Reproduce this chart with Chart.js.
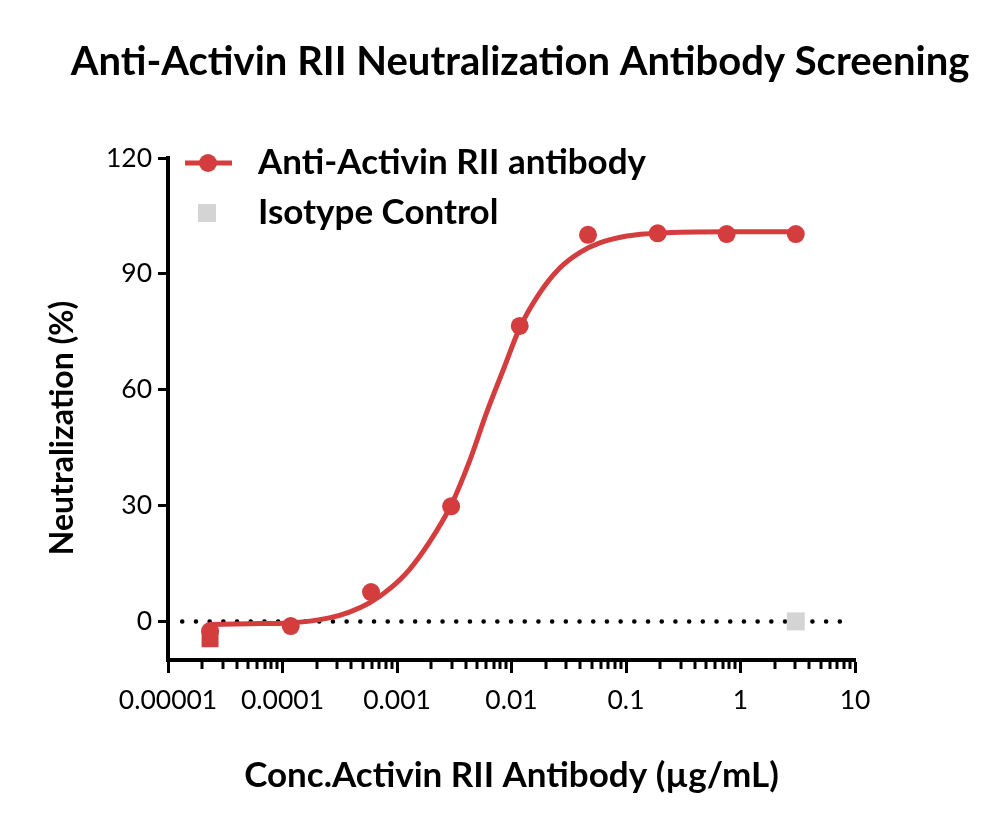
<!DOCTYPE html>
<html>
<head>
<meta charset="utf-8">
<script src="https://cdn.jsdelivr.net/npm/chart.js@4"></script>
<style>
  html, body { margin: 0; padding: 0; background: #fff; }
</style>
</head>
<body>
<canvas id="neutralizationChart" width="1000" height="828"></canvas>
<script>
const chartTitle = 'Anti-Activin RII Neutralization Antibody Screening';
const xTitle = 'Conc.Activin RII Antibody (µg/mL)';
const yTitle = 'Neutralization (%)';
const seriesNames = ['Anti-Activin RII antibody', 'Isotype Control'];

// measured points (µg/mL, %)
const antibodyConc = [2.33e-5, 1.18e-4, 5.93e-4, 2.97e-3, 0.0118, 0.0466, 0.189, 0.757, 3.04];
const antibodyNeut = [-2.5, -1.2, 7.6, 29.8, 76.5, 100.1, 100.5, 100.3, 100.3];
const replicateConc = [2.33e-5];
const replicateNeut = [-4.5];
const isotypeConc = [3.04];
const isotypeNeut = [0];

// fitted curve
const fitConc = [2.33e-5, 5.1e-5, 1.15e-4, 2.56e-4, 3.84e-4, 5.85e-4, 8.6e-4, 1.29e-3, 1.92e-3, 2.99e-3,
  4.3e-3, 6.05e-3, 8.7e-3, 0.0118, 0.0176, 0.0264, 0.0394, 0.059, 0.1016, 0.198, 0.762, 3.04];
const fitNeut = [-0.8, -0.6, -0.4, 0.9, 2.4, 4.9, 8.4, 13.5, 20.5, 30.3,
  41.5, 54, 66, 76, 85, 91.5, 95.5, 98, 99.8, 100.6, 100.9, 100.9];

// dotted zero reference
const zeroConc = [1.33e-5, 8.7];
const zeroNeut = [0, 0];

const xTicks = [1e-5, 1e-4, 1e-3, 1e-2, 1e-1, 1, 10];
const xTickLabels = ['0.00001', '0.0001', '0.001', '0.01', '0.1', '1', '10'];
const yTicks = [0, 30, 60, 90, 120];

const red = '#d43d3d';
const grey = '#d4d4d4';

const toXY = (xs, ys) => xs.map((x, i) => ({ x, y: ys[i] }));

const extras = {
  id: 'extras',
  afterDraw(chart) {
    const ctx = chart.ctx;
    const area = chart.chartArea;
    const xs = chart.scales.x;

    // minor ticks on the log axis
    ctx.save();
    ctx.strokeStyle = '#000';
    ctx.lineWidth = 3;
    for (let d = 0; d < xTicks.length - 1; d++) {
      for (let k = 2; k <= 9; k++) {
        const px = Math.round(xs.getPixelForValue(k * xTicks[d]));
        ctx.beginPath();
        ctx.moveTo(px, area.bottom);
        ctx.lineTo(px, area.bottom + 9);
        ctx.stroke();
      }
    }
    ctx.restore();

    ctx.save();
    ctx.fillStyle = '#000';
    ctx.textAlign = 'center';
    ctx.textBaseline = 'middle';

    // title
    ctx.font = 'bold 40px Lato';
    ctx.fillText(chartTitle, 520, 62);

    // y title
    ctx.translate(63, 428);
    ctx.rotate(-Math.PI / 2);
    ctx.font = 'bold 32px Lato';
    ctx.fillText(yTitle, 0, 0);
    ctx.restore();

    // legend
    ctx.save();
    const y1 = area.top + 5;
    const y2 = area.top + 55;
    ctx.strokeStyle = red;
    ctx.lineWidth = 5;
    ctx.beginPath();
    ctx.moveTo(area.left + 17, y1);
    ctx.lineTo(area.left + 64, y1);
    ctx.stroke();
    ctx.fillStyle = red;
    ctx.beginPath();
    ctx.arc(area.left + 40, y1, 9, 0, Math.PI * 2);
    ctx.fill();
    ctx.fillStyle = grey;
    ctx.fillRect(area.left + 30, y2 - 9, 18, 18);
    ctx.fillStyle = '#000';
    ctx.font = 'bold 35px Lato';
    ctx.textBaseline = 'middle';
    ctx.fillText(seriesNames[0], area.left + 90, y1);
    ctx.fillText(seriesNames[1], area.left + 90, y2);
    ctx.restore();
  }
};

new Chart(document.getElementById('neutralizationChart'), {
  type: 'scatter',
  data: {
    datasets: [
      {
        label: seriesNames[0],
        data: toXY(antibodyConc, antibodyNeut),
        backgroundColor: red,
        borderWidth: 0,
        pointRadius: 9,
        pointHoverRadius: 9,
        order: 0
      },
      {
        label: 'replicate',
        data: toXY(replicateConc, replicateNeut),
        backgroundColor: red,
        borderWidth: 0,
        pointStyle: 'rect',
        pointRadius: 12,
        order: 1
      },
      {
        label: 'fit',
        data: toXY(fitConc, fitNeut),
        showLine: true,
        borderColor: red,
        borderWidth: 5,
        pointRadius: 0,
        cubicInterpolationMode: 'monotone',
        order: 2
      },
      {
        label: seriesNames[1],
        data: toXY(isotypeConc, isotypeNeut),
        backgroundColor: grey,
        borderWidth: 0,
        pointStyle: 'rect',
        pointRadius: 12.7,
        order: 3
      },
      {
        label: 'zero',
        data: toXY(zeroConc, zeroNeut),
        showLine: true,
        borderColor: '#000',
        borderWidth: 4.5,
        borderDash: [0.1, 13.6],
        borderCapStyle: 'round',
        pointRadius: 0,
        order: 4
      }
    ]
  },
  options: {
    responsive: false,
    animation: false,
    devicePixelRatio: 1,
    layout: { padding: { left: 20, right: 145, top: 158, bottom: 0 } },
    plugins: {
      legend: { display: false },
      tooltip: { enabled: false },
      title: { display: false }
    },
    scales: {
      x: {
        type: 'logarithmic',
        min: 1e-5,
        max: 10,
        afterBuildTicks: s => { s.ticks = xTicks.map(v => ({ value: v })); },
        afterFit: s => { s.height = 168; },
        border: { color: '#000', width: 4 },
        grid: { drawOnChartArea: false, drawTicks: true, tickLength: 13, tickWidth: 3, tickColor: '#000' },
        ticks: {
          autoSkip: false,
          maxRotation: 0,
          color: '#000',
          font: { family: 'Lato', size: 26.5 },
          padding: 12,
          callback: (v, i) => xTickLabels[i]
        },
        title: {
          display: true,
          text: xTitle,
          color: '#000',
          font: { family: 'Lato', size: 35, weight: 'bold' },
          padding: { top: 0, bottom: 31 }
        }
      },
      y: {
        min: -10,
        max: 120,
        afterBuildTicks: s => { s.ticks = yTicks.map(v => ({ value: v })); },
        afterFit: s => { s.width = 148; },
        border: { color: '#000', width: 4 },
        grid: { drawOnChartArea: false, drawTicks: true, tickLength: 10, tickWidth: 3, tickColor: '#000' },
        ticks: {
          color: '#000',
          font: { family: 'Lato', size: 26.5 },
          padding: 6
        }
      }
    }
  },
  plugins: [extras]
});
</script>
</body>
</html>
